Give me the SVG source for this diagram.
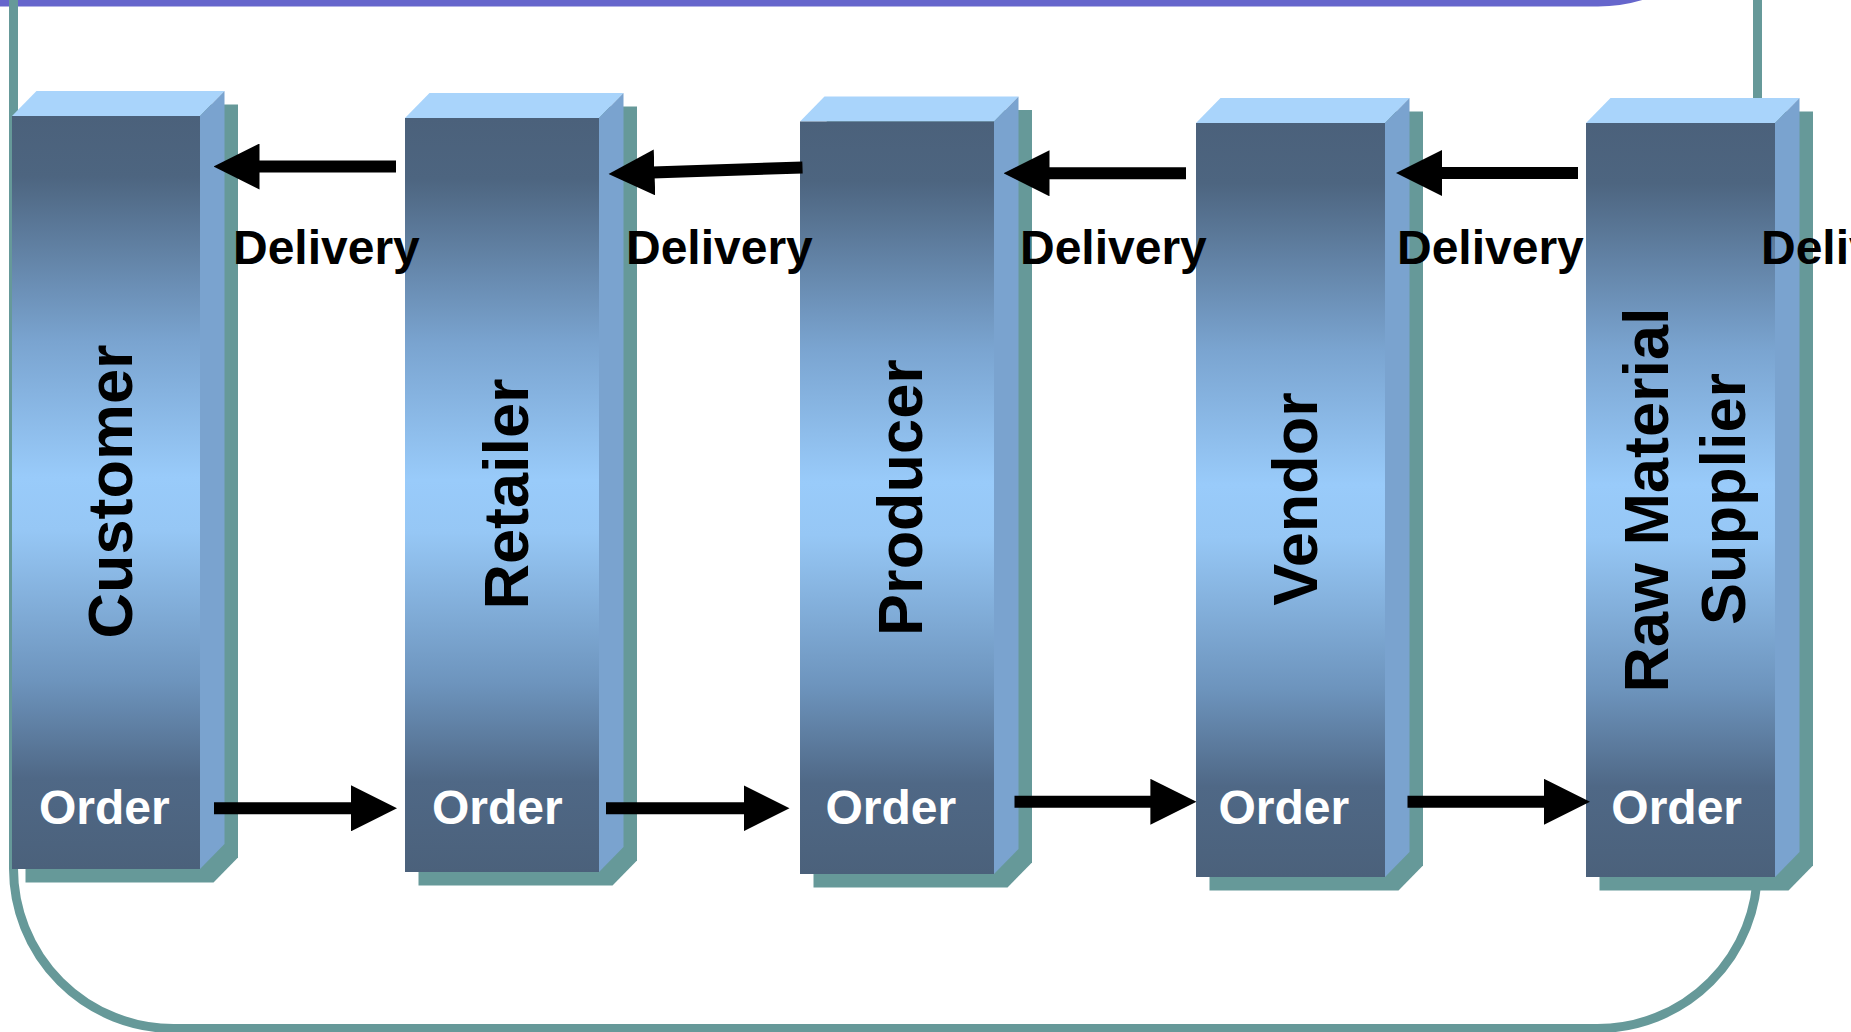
<svg xmlns="http://www.w3.org/2000/svg" width="1851" height="1032" viewBox="0 0 1851 1032">
<style>
.frame{fill:none;stroke:#669999;stroke-width:9}
.purple{fill:none;stroke:#6666cc;stroke-width:8}
.shadow{fill:#669999}
.top{fill:#a9d4fb}
.side{fill:#7aa3cf}
.front{fill:url(#frontGrad)}
.name{font-family:"Liberation Sans",Arial,sans-serif;font-weight:bold;font-size:63px;fill:#000;text-anchor:middle}
.order{font-family:"Liberation Sans",Arial,sans-serif;font-weight:bold;font-size:48px;fill:#fff}
.deliv{font-family:"Liberation Sans",Arial,sans-serif;font-weight:bold;font-size:48px;fill:#000}
.arrow{fill:none;stroke:#000;stroke-width:12;marker-end:url(#head)}
</style>
<defs>
<linearGradient id="frontGrad" x1="0" y1="0" x2="0" y2="1">
<stop offset="0" stop-color="#4b617b"/>
<stop offset="0.08" stop-color="#4d6580"/>
<stop offset="0.3" stop-color="#7aa4d0"/>
<stop offset="0.48" stop-color="#99cbfa"/>
<stop offset="0.55" stop-color="#96c7f5"/>
<stop offset="0.75" stop-color="#6d94bd"/>
<stop offset="0.88" stop-color="#4f6886"/>
<stop offset="1" stop-color="#4b617b"/>
</linearGradient>
<marker id="head" markerUnits="userSpaceOnUse" markerWidth="46" markerHeight="46" viewBox="0 0 46 46" refX="2" refY="23" orient="auto">
<path d="M0,0 L46,23 L0,46 z" fill="#000"/>
</marker>
</defs>
<rect width="1851" height="1032" fill="#fff"/>
<g id="frames">
<path class="purple" d="M -20 2.5 H 1598 A 150 150 0 0 0 1748 -147.5"/>
<path class="frame" d="M 13.5 -10 V 868.5 A 160 160 0 0 0 173.5 1028.5 H 1597.5 A 160 160 0 0 0 1757.5 868.5 V -10"/>
</g>
<g id="customer">
<polygon class="shadow" points="25.5,882.5 25.5,129.5 50,104.5 238,104.5 238,857.5 213.5,882.5"/>
<polygon class="top" points="12,116 36.5,91 224.5,91 200,116"/>
<polygon class="side" points="200,116 224.5,91 224.5,844 200,869"/>
<rect class="front" x="12" y="116" width="188" height="753"/>
<text class="name" transform="translate(131.7,491.5) rotate(-90)">Customer</text>
<text class="order" x="39" y="824">Order</text>
</g>
<g id="retailer">
<polygon class="shadow" points="418.5,885.5 418.5,131.5 443,106.5 637,106.5 637,860.5 612.5,885.5"/>
<polygon class="top" points="405,118 429.5,93 623.5,93 599,118"/>
<polygon class="side" points="599,118 623.5,93 623.5,847 599,872"/>
<rect class="front" x="405" y="118" width="194" height="754"/>
<text class="name" transform="translate(528.3,494) rotate(-90)">Retailer</text>
<text class="order" x="432" y="824">Order</text>
</g>
<g id="producer">
<polygon class="shadow" points="813.5,887.5 813.5,135 838,110 1032,110 1032,862.5 1007.5,887.5"/>
<polygon class="top" points="800,121.5 824.5,96.5 1018.5,96.5 994,121.5"/>
<polygon class="side" points="994,121.5 1018.5,96.5 1018.5,849 994,874"/>
<rect class="front" x="800" y="121.5" width="194" height="752.5"/>
<text class="name" transform="translate(921.7,497.6) rotate(-90)">Producer</text>
<text class="order" x="825.5" y="824">Order</text>
</g>
<g id="vendor">
<polygon class="shadow" points="1209.5,890.5 1209.5,136.5 1234,111.5 1423,111.5 1423,865.5 1398.5,890.5"/>
<polygon class="top" points="1196,123 1220.5,98 1409.5,98 1385,123"/>
<polygon class="side" points="1385,123 1409.5,98 1409.5,852 1385,877"/>
<rect class="front" x="1196" y="123" width="189" height="754"/>
<text class="name" transform="translate(1316.7,499) rotate(-90)">Vendor</text>
<text class="order" x="1218.4" y="824">Order</text>
</g>
<g id="supplier">
<polygon class="shadow" points="1599.5,890.5 1599.5,136.5 1624,111.5 1813,111.5 1813,865.5 1788.5,890.5"/>
<polygon class="top" points="1586,123 1610.5,98 1799.5,98 1775,123"/>
<polygon class="side" points="1775,123 1799.5,98 1799.5,852 1775,877"/>
<rect class="front" x="1586" y="123" width="189" height="754"/>
<text class="name" transform="translate(1668.3,500) rotate(-90)">Raw Material</text>
<text class="name" transform="translate(1745,499) rotate(-90)">Supplier</text>
<text class="order" x="1611.3" y="824">Order</text>
</g>
<g id="connectors">
<path class="arrow" d="M396,166.5 L257.5,166.5"/>
<path class="arrow" d="M802.5,167.5 L652.5,172.5"/>
<path class="arrow" d="M1186,173.3 L1047.5,173.3"/>
<path class="arrow" d="M1578,173 L1440,173"/>
<path class="arrow" d="M214,808.3 L353,808.3"/>
<path class="arrow" d="M606,808.3 L745.5,808.3"/>
<path class="arrow" d="M1014.5,801.8 L1152.4,801.8"/>
<path class="arrow" d="M1407.5,801.8 L1546,801.8"/>
<text class="deliv" x="233" y="264">Delivery</text>
<text class="deliv" x="626" y="264">Delivery</text>
<text class="deliv" x="1020" y="264">Delivery</text>
<text class="deliv" x="1397" y="264">Delivery</text>
<text class="deliv" x="1761" y="264">Delivery</text>
</g>
</svg>
